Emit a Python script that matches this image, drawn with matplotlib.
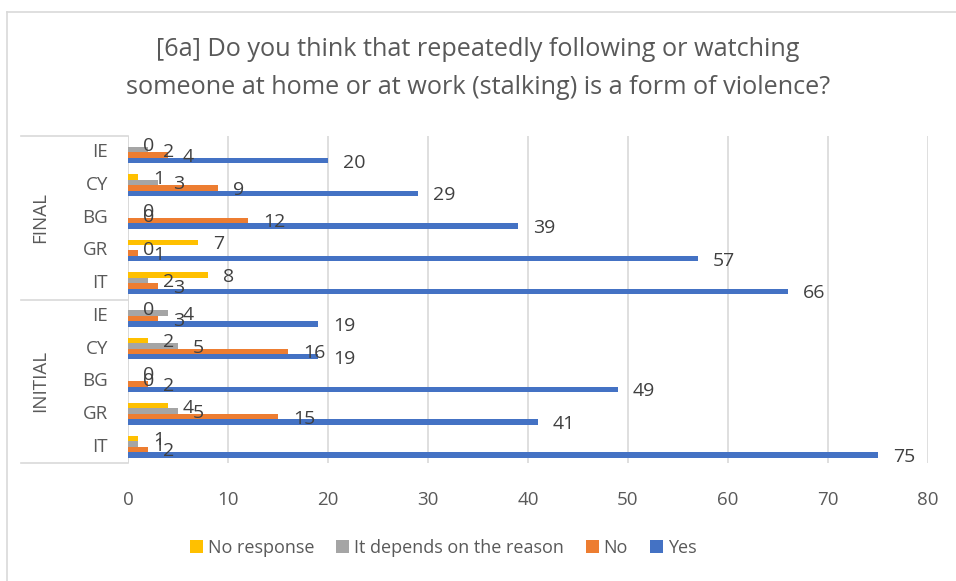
import numpy as np
import matplotlib.pyplot as plt
from matplotlib.lines import Line2D

plt.rcParams['font.family'] = ['Open Sans', 'DejaVu Sans']

# categories from bottom to top
groups = ['INITIAL', 'FINAL']
countries = ['IT', 'GR', 'BG', 'CY', 'IE']

no_response = [1, 4, 0, 2, 0, 8, 7, 0, 1, 0]
depends = [1, 5, 0, 5, 4, 2, 0, 0, 3, 2]
no = [2, 15, 2, 16, 3, 3, 1, 12, 9, 4]
yes = [75, 41, 49, 19, 19, 66, 57, 39, 29, 20]

series = [
    ('No response', no_response, '#FFC000'),
    ('It depends on the reason', depends, '#A5A5A5'),
    ('No', no, '#ED7D31'),
    ('Yes', yes, '#4472C4'),
]

W, H = 956, 581
fig = plt.figure(figsize=(W / 100, H / 100), dpi=100)
ax = fig.add_axes([128 / W, 1 - 463 / H, 800 / W, (463 - 136) / H])

txt = '#595959'
lbl = '#404040'
n = len(yes)
y = np.arange(n)
h = 0.167
for k, (name, vals, col) in enumerate(series):
    pos = y + (1.5 - k) * h
    ax.barh(pos, vals, height=h, color=col, label=name, zorder=3)
    for p, v in zip(pos, vals):
        ax.annotate(str(v), (v, p), xytext=(15, -2), textcoords='offset pixels',
                    ha='left', va='center', fontsize=14, color=lbl, zorder=4)

ax.set_xlim(0, 80)
ax.set_ylim(-0.5, n - 0.5)
ax.set_xticks(range(0, 81, 10))
ax.tick_params(axis='x', length=0, labelsize=13.5, labelcolor=txt, pad=20)
ax.set_yticks([])
ax.grid(axis='x', color='#D9D9D9', linewidth=1.2, zorder=0)
for s in ax.spines.values():
    s.set_visible(False)
ax.axvline(0, color='#D9D9D9', linewidth=1.2, zorder=2)

# two-level category axis on the left
tr = ax.get_yaxis_transform()
cats = countries * len(groups)
for i, c in enumerate(cats):
    ax.text(-20 / 800, i, c, transform=tr, ha='right', va='center',
            fontsize=13.5, color=txt)
for j, g in enumerate(groups):
    ax.text(-88 / 800, j * 5 + 2, g, transform=tr, ha='center', va='center',
            rotation=90, fontsize=13.5, color=txt)
for yb in [-0.5, 4.5, 9.5]:
    ax.add_line(Line2D([-107 / 800, 0], [yb, yb], transform=tr, color='#D9D9D9',
                       linewidth=1.2, clip_on=False))

fig.text(0.5, 1 - 50 / H, '[6a] Do you think that repeatedly following or watching',
         ha='center', va='center', fontsize=18.2, color=txt)
fig.text(0.5, 1 - 87 / H, 'someone at home or at work (stalking) is a form of violence?',
         ha='center', va='center', fontsize=18.2, color=txt)

handles, labels = ax.get_legend_handles_labels()
fig.legend(handles, labels, loc='center', bbox_to_anchor=(443 / W, 1 - 548 / H), ncol=4,
           frameon=False, fontsize=13, labelcolor=txt, handlelength=0.75,
           handleheight=0.75, handletextpad=0.25, columnspacing=1.2)

# outer chart border
fig.add_artist(Line2D([7 / W, 1], [1 - 12 / H, 1 - 12 / H], color='#D9D9D9', linewidth=1.2))
fig.add_artist(Line2D([7 / W, 7 / W], [0, 1 - 12 / H], color='#D9D9D9', linewidth=1.2))

fig.savefig('out.png', dpi=100, facecolor='white')
